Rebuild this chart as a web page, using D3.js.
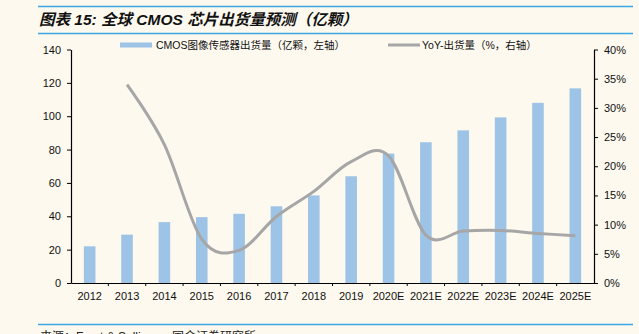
<!DOCTYPE html>
<html><head><meta charset="utf-8">
<script src="https://cdn.jsdelivr.net/npm/d3@7"></script>
<style>
html,body{margin:0;padding:0;background:#fdf9ef;}
svg{display:block;}
</style></head>
<body>
<svg id="c" width="639" height="334"></svg>
<script>
const categories = ["2012","2013","2014","2015","2016","2017","2018","2019","2020E","2021E","2022E","2023E","2024E","2025E"];
const shipments = [22, 29, 36.5, 39.5, 41.5, 46, 52.5, 64, 77.6, 84.4, 91.5, 99.3, 108, 116.7];
const yoy = [null, 34.0, 23.7, 7.5, 5.6, 11.4, 15.7, 20.8, 21.8, 8.2, 8.9, 9.0, 8.5, 8.1];
const leftTicks = [0,20,40,60,80,100,120,140];
const rightTicks = [0,5,10,15,20,25,30,35,40];
const barLabel = "CMOS图像传感器出货量（亿颗，左轴）";
const lineLabel = "YoY-出货量（%，右轴）";
const title = "图表 15:  全球 CMOS 芯片出货量预测（亿颗）";
const source = "来源：Frost & Sullivan，国金证券研究所";

const svg = d3.select("#c");
const font = "Liberation Sans, Arial, Noto Sans CJK SC, sans-serif";
const pLeft = 71, pRight = 594, pTop = 49.5, pBottom = 283;

// header rules and title
svg.append("line").attr("x1",38).attr("x2",633).attr("y1",6.5).attr("y2",6.5).attr("stroke","#3ea6e0").attr("stroke-width",1.5);
svg.append("line").attr("x1",38).attr("x2",633).attr("y1",33.5).attr("y2",33.5).attr("stroke","#3ea6e0").attr("stroke-width",1.5);
svg.append("text").attr("x",39).attr("y",25).text(title)
  .attr("font-family","Liberation Sans, Noto Sans CJK SC, sans-serif").attr("font-size",15.5)
  .attr("font-weight","bold").attr("font-style","italic").attr("fill","#111");
svg.append("line").attr("x1",38).attr("x2",633).attr("y1",324.5).attr("y2",324.5).attr("stroke","#3ea6e0").attr("stroke-width",1.5);
svg.append("text").attr("x",40).attr("y",341).text(source)
  .attr("font-family",font).attr("font-size",12).attr("fill","#222");

const x = d3.scaleBand().domain(categories).range([pLeft,pRight]).paddingInner(0.69).paddingOuter(0.345);
const xb = d3.scaleBand().domain(categories).range([pLeft,pRight]);
const yL = d3.scaleLinear().domain([0,140]).range([pBottom,pTop]);
const yR = d3.scaleLinear().domain([0,40]).range([pBottom,pTop]);

// bars
svg.append("g").selectAll("rect").data(categories).join("rect")
  .attr("x",d=>x(d)).attr("width",x.bandwidth())
  .attr("y",(d,i)=>yL(shipments[i])).attr("height",(d,i)=>pBottom-yL(shipments[i]))
  .attr("fill","#9dc3e6");

// line (Excel-style smoothing = uniform Catmull-Rom)
const pts = categories.map((c,i)=>({c,v:yoy[i]})).filter(d=>d.v!=null);
const line = d3.line().x(d=>xb(d.c)+xb.bandwidth()/2).y(d=>yR(d.v)).curve(d3.curveCardinal.tension(0));
svg.append("path").datum(pts).attr("d",line).attr("fill","none").attr("stroke","#a6a6a6").attr("stroke-width",3);

// axes
const axL = svg.append("g").attr("transform",`translate(${pLeft},0)`)
  .call(d3.axisLeft(yL).tickValues(leftTicks).tickSize(4).tickSizeOuter(0));
const axR = svg.append("g").attr("transform",`translate(${pRight},0)`)
  .call(d3.axisRight(yR).tickValues(rightTicks).tickSize(4).tickSizeOuter(0).tickFormat(d=>d+"%"));
const axB = svg.append("g").attr("transform",`translate(0,${pBottom})`)
  .call(d3.axisBottom(xb).tickSize(0).tickSizeOuter(0));
// category boundary ticks
svg.append("g").selectAll("line").data(categories.slice(1)).join("line")
  .attr("x1",d=>xb(d)).attr("x2",d=>xb(d)).attr("y1",pBottom).attr("y2",pBottom+3)
  .attr("stroke","#000");
[axL,axR,axB].forEach(a=>{
  a.selectAll("path").attr("stroke","#000").attr("stroke-width",1.2);
  a.selectAll("line").attr("stroke","#000");
  a.selectAll("text").attr("font-family",font).attr("font-size",11).attr("fill","#111");
});
axL.selectAll("text").attr("x",-10);
axR.selectAll("text").attr("x",10);
axB.selectAll("text").attr("dy","1.25em");

// legend
const lg = svg.append("g");
lg.append("rect").attr("x",120).attr("y",42.5).attr("width",32).attr("height",5).attr("fill","#9dc3e6");
lg.append("text").attr("x",156).attr("y",49).text(barLabel).attr("font-family",font).attr("font-size",10.5).attr("fill","#111");
lg.append("line").attr("x1",388).attr("x2",420).attr("y1",45).attr("y2",45).attr("stroke","#a6a6a6").attr("stroke-width",3);
lg.append("text").attr("x",422).attr("y",49).text(lineLabel).attr("font-family",font).attr("font-size",10.5).attr("fill","#111");
</script>
</body></html>
